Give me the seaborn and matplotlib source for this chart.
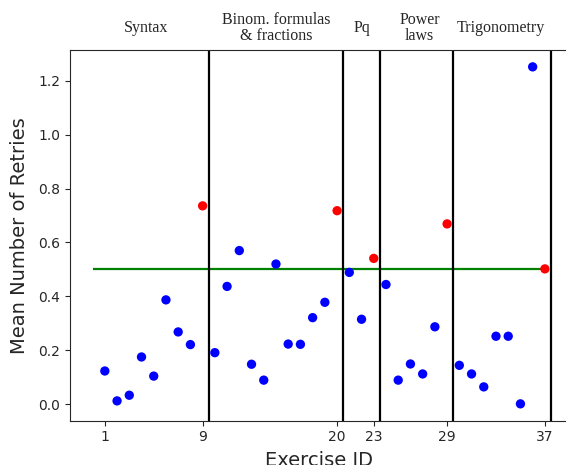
import matplotlib
matplotlib.use("Agg")
import matplotlib.pyplot as plt
import seaborn as sns
import pandas as pd

exercise_ids = list(range(1, 38))
mean_retries = [0.123, 0.012, 0.033, 0.175, 0.104, 0.387, 0.268, 0.221, 0.736,
                0.191, 0.437, 0.570, 0.148, 0.089, 0.520, 0.223, 0.222, 0.321,
                0.378, 0.718, 0.489, 0.315, 0.541, 0.444, 0.089, 0.149, 0.112,
                0.287, 0.669, 0.144, 0.112, 0.064, 0.252, 0.252, 0.001, 1.252,
                0.502]
section_names = ["Syntax", "Binom. formulas\n& fractions", "Pq", "Power\nlaws", "Trigonometry"]
section_last_ids = [9, 20, 23, 29, 37]
section_label_x = [4.4, 15.0, 22.0, 26.75, 33.4]
threshold = 0.5
xtick_labels = [1, 9, 20, 23, 29, 37]

df = pd.DataFrame({"id": exercise_ids, "retries": mean_retries})
df["kind"] = ["last" if i in section_last_ids else "normal" for i in exercise_ids]

sns.set_style("ticks")
plt.rcParams["font.family"] = ["DejaVu Sans"]

fig = plt.figure(figsize=(5.66, 4.65), dpi=100)
ax = fig.add_axes([70 / 566, (465 - 420.7) / 465, 497.5 / 566, 370.7 / 465])

sns.scatterplot(data=df, x="id", y="retries", hue="kind",
                palette={"normal": "blue", "last": "red"}, s=45,
                linewidth=0, legend=False, ax=ax, zorder=3)

ax.hlines(threshold, 0, max(exercise_ids), color="green", lw=1.6, zorder=2)
for last in section_last_ids:
    ax.axvline(last + 0.5, color="black", lw=1.6, zorder=2)

ax.set_xticks(xtick_labels)
ax.set_xticklabels([str(t) for t in xtick_labels])
ax.set_yticks([0.0, 0.2, 0.4, 0.6, 0.8, 1.0, 1.2])
ax.tick_params(labelsize=10)
ax.set_xlabel("Exercise ID", fontsize=14, labelpad=5)
ax.set_ylabel("Mean Number of Retries", fontsize=14, labelpad=7)

trans = ax.get_xaxis_transform()
for name, xpos in zip(section_names, section_label_x):
    ax.text(xpos, 1.059, name, transform=trans, ha="center", va="center",
            fontsize=11.5, family=["Liberation Serif", "DejaVu Serif"],
            linespacing=0.95)

fig.savefig("out.png", dpi=100)
